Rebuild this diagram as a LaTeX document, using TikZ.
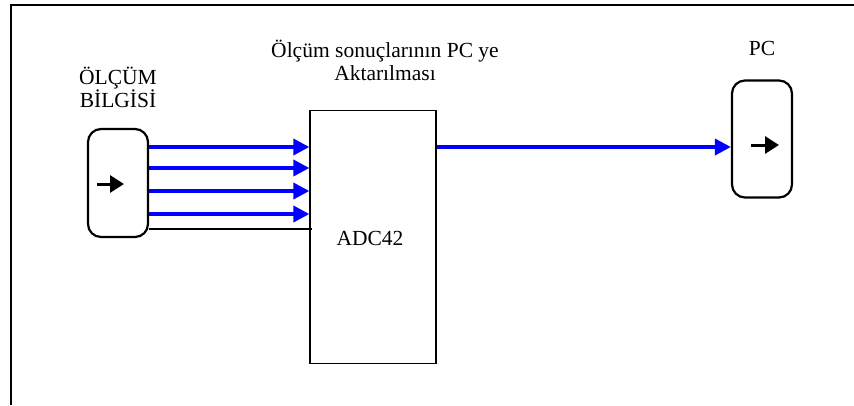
\documentclass[tikz,border=0pt]{standalone}
\usepackage{fontspec}
\setmainfont{Liberation Serif}
\usetikzlibrary{arrows.meta}
\definecolor{flowblue}{RGB}{0,0,255}
\begin{document}
\begin{tikzpicture}[x=1pt,y=-1pt,
  lbl/.style={font=\fontsize{21.5}{23}\selectfont, align=center, inner sep=0pt},
  devbox/.style={draw=black, line width=2.2pt, rounded corners=13pt, minimum width=60pt, minimum height=108pt, inner sep=0pt},
  adcbox/.style={draw=black, line width=1.3pt, minimum width=126pt, minimum height=253pt, inner sep=0pt},
  flow/.style={draw=flowblue, line width=3.6pt, -{Triangle[length=16pt,width=16pt]}},
  glyph/.style={line width=3pt, -{Triangle[length=14pt,width=17pt]}}
]
\useasboundingbox (0,0) rectangle (854,405);
% outer frame
\draw[line width=1.5pt] (11,405) -- (11,5) -- (854,5);

% nodes
\node[devbox] (src) at (118,183) {};
\node[adcbox] (adc) at (373,237) {};
\node[devbox, minimum height=117pt] (pc) at (762,139) {};

% labels
\node[lbl, anchor=base] (t1) at (118,107) {ÖLÇÜM\\BİLGİSİ};
\node[lbl, anchor=base] (t2) at (385,80) {Ölçüm sonuçlarının PC ye\\Aktarılması};
\node[lbl, anchor=base] (t3) at (762,55) {PC};
\node[lbl, anchor=base] (t4) at (370,245) {ADC42};

% glyph arrows inside boxes
\coordinate (g1a) at (97,184);
\coordinate (g1b) at (124,184);
\draw[glyph] (g1a) -- (g1b);
\coordinate (g2a) at (751,145);
\coordinate (g2b) at (779,145);
\draw[glyph] (g2a) -- (g2b);

% input arrows
\coordinate (y1) at (0,147);
\coordinate (y2) at (0,168);
\coordinate (y3) at (0,191);
\coordinate (y4) at (0,214);
\coordinate (y5) at (0,229);
\draw[flow] (src.east |- y1) -- (adc.west |- y1);
\draw[flow] (src.east |- y2) -- (adc.west |- y2);
\draw[flow] (src.east |- y3) -- (adc.west |- y3);
\draw[flow] (src.east |- y4) -- (adc.west |- y4);
\coordinate (bend) at ([xshift=3pt]adc.west |- y5);
\draw[line width=1.5pt] (src.east |- y5) -- (bend);

% output arrow
\draw[flow] (adc.east |- y1) -- (pc.west |- y1);
\end{tikzpicture}
\end{document}
